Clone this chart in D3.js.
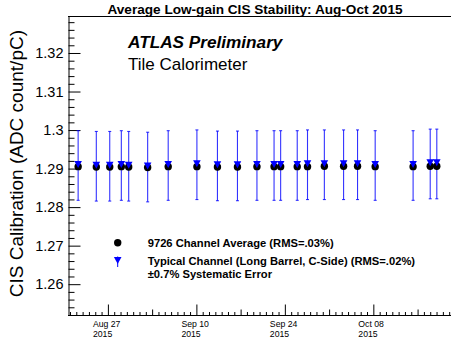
<!DOCTYPE html>
<html>
<head>
<meta charset="utf-8">
<script src="https://cdn.jsdelivr.net/npm/d3@7"></script>
<style>
  html, body { margin: 0; padding: 0; background: #fff; }
  svg { display: block; font-family: "Liberation Sans", Arial, Helvetica, sans-serif; }
</style>
</head>
<body>
<svg id="chart" width="451" height="343"></svg>
<script>
// measurement dates (local time)
const runDates = [
    "2015-08-22T07:00", "2015-08-25T04:00", "2015-08-27T07:00", "2015-08-29T03:00",
    "2015-08-30T07:00", "2015-09-02T07:00", "2015-09-05T13:00", "2015-09-10T02:00",
    "2015-09-13T08:00", "2015-09-16T12:00", "2015-09-19T14:00", "2015-09-22T07:00",
    "2015-09-23T08:00", "2015-09-25T23:00", "2015-09-27T14:00", "2015-09-30T06:00",
    "2015-10-03T07:00", "2015-10-05T12:00", "2015-10-08T07:00", "2015-10-14T07:00",
    "2015-10-17T00:00", "2015-10-18T01:00"
];
// 9726 channel average
const avgValues = [
    1.2905, 1.2904, 1.2904, 1.2905, 1.2904, 1.2903, 1.2905, 1.2905,
    1.2904, 1.2904, 1.2905, 1.2905, 1.2905, 1.2905, 1.2905, 1.2906,
    1.2906, 1.2906, 1.2905, 1.2905, 1.2906, 1.2906
];
// typical channel (long barrel, C-side)
const typicalValues = [
    1.2908, 1.2906, 1.2906, 1.2908, 1.2906, 1.2904, 1.2908, 1.2910,
    1.2907, 1.2907, 1.2908, 1.2908, 1.2908, 1.2908, 1.2910, 1.2910,
    1.2910, 1.2910, 1.2908, 1.2908, 1.2912, 1.2912
];
const systematicError = 0.007;

const xRange = ["2015-08-20T16:30", "2015-10-21T00:00"];
const firstMajorTick = "2015-08-27T00:00";
const yRange = [1.252, 1.3296];
const yTickValues = [1.26, 1.27, 1.28, 1.29, 1.30, 1.31, 1.32];

const titleText = "Average Low-gain CIS Stability: Aug-Oct 2015";
const yTitle = "CIS Calibration (ADC count/pC)";
const legendLabels = [
    "9726 Channel Average (RMS=.03%)",
    "Typical Channel (Long Barrel, C-Side) (RMS=.02%)",
    "\u00b10.7% Systematic Error"
];

const parseTime = d3.timeParse("%Y-%m-%dT%H:%M");
const svg = d3.select("#chart");
const blue = "#0000ff";
const plotLeft = 68, plotTop = 16, plotBottom = 315;

let points = runDates.map(function(d, i) {
    return { date: parseTime(d), avg: avgValues[i], typ: typicalValues[i] };
});

let xScale = d3.scaleTime()
    .domain(xRange.map(parseTime))
    .range([plotLeft, 455.5]);

let yScale = d3.scaleLinear()
    .domain(yRange)
    .range([plotBottom, plotTop]);

// frame: top line
svg.append("line")
    .attr("x1", plotLeft).attr("x2", 451)
    .attr("y1", plotTop + 0.5).attr("y2", plotTop + 0.5)
    .attr("stroke", "#000").attr("stroke-width", 1);

// y axis, ticks pointing into the plot
let yMinor = d3.range(1.252, 1.3296, 0.002).filter(function(v) {
    return Math.abs(Math.round(v * 100) - v * 100) > 0.01;
});
svg.append("g")
    .attr("transform", "translate(" + (plotLeft + 0.5) + ",0)")
    .call(d3.axisLeft(yScale).tickValues(yMinor).tickSizeInner(-6).tickSizeOuter(0).tickFormat(""))
    .call(function(g) { g.select(".domain").remove(); });

let yAxis = svg.append("g")
    .attr("transform", "translate(" + (plotLeft + 0.5) + ",0)")
    .call(d3.axisLeft(yScale).tickValues(yTickValues).tickSizeInner(-12).tickSizeOuter(0).tickPadding(5)
        .tickFormat(function(d) { return String(+d.toFixed(2)); }));
yAxis.select(".domain").attr("stroke", "#000");
yAxis.selectAll("text")
    .style("font-family", "Liberation Sans, Arial, sans-serif")
    .style("font-size", "14.5px")
    .attr("fill", "#000");

// x axis: daily minor, weekly medium, two-weekly major
let origin = parseTime(firstMajorTick);
let allDays = d3.timeDay.range(xScale.domain()[0], xScale.domain()[1]);
function dayIndex(d) { return Math.round((d - origin) / 864e5); }
let majorTicks = allDays.filter(function(d) { return dayIndex(d) % 14 === 0; });
let mediumTicks = allDays.filter(function(d) { return dayIndex(d) % 14 !== 0 && dayIndex(d) % 7 === 0; });
let minorTicks = allDays.filter(function(d) { return dayIndex(d) % 7 !== 0; });

let xG = svg.append("g").attr("transform", "translate(0," + (plotBottom + 0.5) + ")");
xG.append("g")
    .call(d3.axisBottom(xScale).tickValues(minorTicks).tickSizeInner(-3.5).tickSizeOuter(0).tickFormat(""))
    .call(function(g) { g.select(".domain").remove(); });
xG.append("g")
    .call(d3.axisBottom(xScale).tickValues(mediumTicks).tickSizeInner(-6).tickSizeOuter(0).tickFormat(""))
    .call(function(g) { g.select(".domain").remove(); });
let xMajor = xG.append("g")
    .call(d3.axisBottom(xScale).tickValues(majorTicks).tickSizeInner(-11).tickSizeOuter(0).tickFormat(""));
xMajor.select(".domain").attr("d", "M" + plotLeft + ",0H451").attr("stroke", "#000");

let fmtDay = d3.timeFormat("%b %d");
let fmtYear = d3.timeFormat("%Y");
xMajor.selectAll(".tick").each(function(d) {
    let t = d3.select(this);
    t.append("text")
        .attr("x", -15.5).attr("y", 11)
        .attr("text-anchor", "start")
        .attr("fill", "#000")
        .style("font-size", "8.7px")
        .text(fmtDay(d));
    t.append("text")
        .attr("x", -15.5).attr("y", 21.5)
        .attr("text-anchor", "start")
        .attr("fill", "#000")
        .style("font-size", "8.7px")
        .text(fmtYear(d));
});
xG.selectAll("line").attr("stroke", "#000");
yAxis.selectAll("line").attr("stroke", "#000");

// error bars for the typical channel (systematic error)
let bars = svg.selectAll(".errBar")
    .data(points)
    .enter()
    .append("g")
    .attr("class", "errBar")
    .attr("stroke", blue)
    .attr("stroke-width", 1.1)
    .attr("stroke-opacity", 0.8);
bars.append("line")
    .attr("x1", function(d) { return xScale(d.date); })
    .attr("x2", function(d) { return xScale(d.date); })
    .attr("y1", function(d) { return yScale(d.typ * (1 + systematicError)); })
    .attr("y2", function(d) { return yScale(d.typ * (1 - systematicError)); });
bars.selectAll(".cap")
    .data(function(d) { return [d.typ * (1 + systematicError), d.typ * (1 - systematicError)].map(function(v) { return { date: d.date, v: v }; }); })
    .enter()
    .append("line")
    .attr("x1", function(d) { return xScale(d.date) - 1.5; })
    .attr("x2", function(d) { return xScale(d.date) + 1.5; })
    .attr("y1", function(d) { return yScale(d.v); })
    .attr("y2", function(d) { return yScale(d.v); });

// channel average dots
svg.selectAll(".avgDot")
    .data(points)
    .enter()
    .append("circle")
    .attr("cx", function(d) { return xScale(d.date); })
    .attr("cy", function(d) { return yScale(d.avg); })
    .attr("r", 3.7)
    .attr("fill", "#000");

// typical channel triangles (pointing down)
const triPath = "M-3.8,-3.6L3.8,-3.6L0,3.4Z";
svg.selectAll(".typTri")
    .data(points)
    .enter()
    .append("path")
    .attr("d", triPath)
    .attr("transform", function(d) { return "translate(" + xScale(d.date) + "," + (yScale(d.typ) - 1) + ")"; })
    .attr("fill", blue);

// title
svg.append("text")
    .attr("x", 255).attr("y", 14)
    .attr("text-anchor", "middle")
    .style("font-weight", "bold")
    .style("font-size", "13.6px")
    .text(titleText);

// y axis title
svg.append("text")
    .attr("transform", "translate(23,30) rotate(-90)")
    .attr("text-anchor", "end")
    .style("font-size", "19px")
    .text(yTitle);

// ATLAS label
svg.append("text")
    .attr("x", 128).attr("y", 48)
    .style("font-weight", "bold")
    .style("font-style", "italic")
    .style("font-size", "17.2px")
    .text("ATLAS Preliminary");
svg.append("text")
    .attr("x", 128).attr("y", 70)
    .style("font-size", "17px")
    .text("Tile Calorimeter");

// legend
svg.append("circle")
    .attr("cx", 117.7).attr("cy", 242.7).attr("r", 3.7).attr("fill", "#000");
svg.append("line")
    .attr("x1", 117.7).attr("x2", 117.7).attr("y1", 256.5).attr("y2", 267)
    .attr("stroke", blue).attr("stroke-width", 1);
svg.append("path")
    .attr("d", triPath)
    .attr("transform", "translate(117.7,260.5)")
    .attr("fill", blue);
let legendY = [246.7, 265.3, 278.3];
legendLabels.forEach(function(label, i) {
    svg.append("text")
        .attr("x", 147.7).attr("y", legendY[i])
        .style("font-weight", "bold")
        .style("font-size", "11.2px")
        .text(label);
});
</script>
</body>
</html>
